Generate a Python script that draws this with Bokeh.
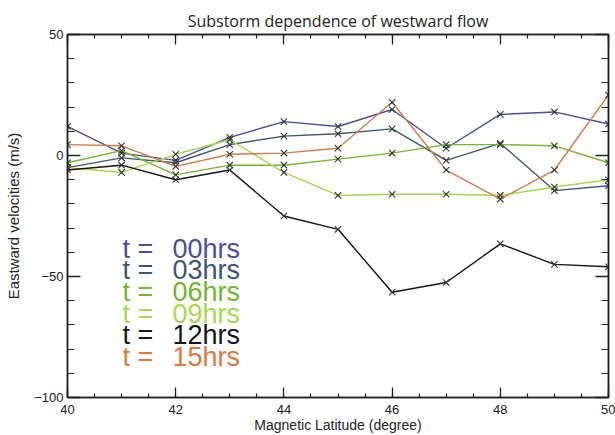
from bokeh.plotting import figure
from bokeh.models import LinearAxis, SingleIntervalTicker, Label, Range1d
from bokeh.embed import file_html
from bokeh.resources import INLINE

# ---- data ----
latitude = [40, 41, 42, 43, 44, 45, 46, 47, 48, 49, 50]
v_00 = [12, 1, -2, 7.5, 14, 12, 19, 3, 17, 18, 13]
v_03 = [-5, -1, -3, 4.5, 8, 9, 11, -2, 5, -14.5, -12.5]
v_06 = [-3, 2, -8, -4, -4, -1.5, 1, 4.5, 4.5, 4, -3]
v_09 = [-5, -7, 0.5, 6.5, -7, -16.5, -16, -16, -16.5, -13, -10]
v_12 = [-6, -4, -10, -6, -25, -30.5, -56.5, -52.5, -36.5, -45, -46]
v_15 = [4.5, 4, -4.5, 0.5, 1, 3, 22, -6, -18, -6, 25]
series_names = ["00hrs", "03hrs", "06hrs", "09hrs", "12hrs", "15hrs"]
series_values = [v_00, v_03, v_06, v_09, v_12, v_15]
colors = ["#4b4ba5", "#3d5670", "#72b52e", "#a8d64c", "#151515", "#d97a42"]

FONT = "Liberation Sans"

p = figure(width=615, height=435, x_range=Range1d(40, 50), y_range=Range1d(-100, 50),
           output_backend="svg", toolbar_location=None,
           title="Substorm dependence of westward flow",
           min_border_left=67, min_border_right=7, min_border_top=34, min_border_bottom=37,
           x_axis_location=None, y_axis_location=None)
p.background_fill_color = "white"
p.border_fill_color = "white"
p.outline_line_color = "#222222"
p.outline_line_width = 1.5
p.xgrid.visible = False
p.ygrid.visible = False

p.title.text_font = "Open Sans"
p.title.text_font_size = "16px"
p.title.text_font_style = "normal"
p.title.text_color = "#222222"
p.title.align = "center"
p.title.standoff = 5
p.title.offset = -7


def style_axis(ax, ticker, major, minor, labels):
    ax.ticker = ticker
    ax.major_tick_in = major
    ax.major_tick_out = 0
    ax.minor_tick_in = minor
    ax.minor_tick_out = 0
    ax.axis_line_color = "#222222"
    ax.axis_line_width = 1.5
    ax.major_tick_line_color = "#222222"
    ax.major_tick_line_width = 1.3
    ax.minor_tick_line_color = "#222222"
    ax.minor_tick_line_width = 1.2
    if labels:
        ax.major_label_text_font = FONT
        ax.major_label_text_font_size = "13px"
        ax.major_label_text_color = "#222222"
    else:
        ax.major_label_text_font_size = "0px"
        ax.major_label_text_color = None
        ax.major_label_standoff = 0


def xt():
    return SingleIntervalTicker(interval=2, num_minor_ticks=4)


def yt():
    return SingleIntervalTicker(interval=50, num_minor_ticks=5)


bottom = LinearAxis()
style_axis(bottom, xt(), 10, 4, True)
bottom.major_label_standoff = 7
bottom.axis_label = "Magnetic Latitude (degree)"
bottom.axis_label_text_font = FONT
bottom.axis_label_text_font_size = "14px"
bottom.axis_label_text_font_style = "normal"
bottom.axis_label_text_color = "#222222"
bottom.axis_label_standoff = 0
p.add_layout(bottom, "below")

top = LinearAxis()
style_axis(top, xt(), 10, 4, False)
p.add_layout(top, "above")

left = LinearAxis()
style_axis(left, yt(), 13, 7, True)
left.major_label_standoff = 4
left.axis_label = "Eastward velocities (m/s)"
left.axis_label_text_font = FONT
left.axis_label_text_font_size = "15px"
left.axis_label_text_font_style = "normal"
left.axis_label_text_color = "#222222"
left.axis_label_standoff = 9
p.add_layout(left, "left")

right = LinearAxis()
style_axis(right, yt(), 13, 7, False)
p.add_layout(right, "right")

for vals, col in zip(series_values, colors):
    p.line(latitude, vals, line_color=col, line_width=1.4)
    p.scatter(latitude, vals, marker="x", size=9, line_color="#333333", line_width=1.1)

# legend text
y0 = -38.6
step = 8.9
for i, (name, col) in enumerate(zip(series_names, colors)):
    yy = y0 - i * step
    p.add_layout(Label(x=41.017, y=yy, text="t =", text_font=FONT, text_font_size="27px",
                       text_color=col, text_baseline="alphabetic"))
    p.add_layout(Label(x=41.94, y=yy, text=name, text_font=FONT, text_font_size="27px",
                       text_color=col, text_baseline="alphabetic"))

open("out.html", "w").write(file_html(p, INLINE))
